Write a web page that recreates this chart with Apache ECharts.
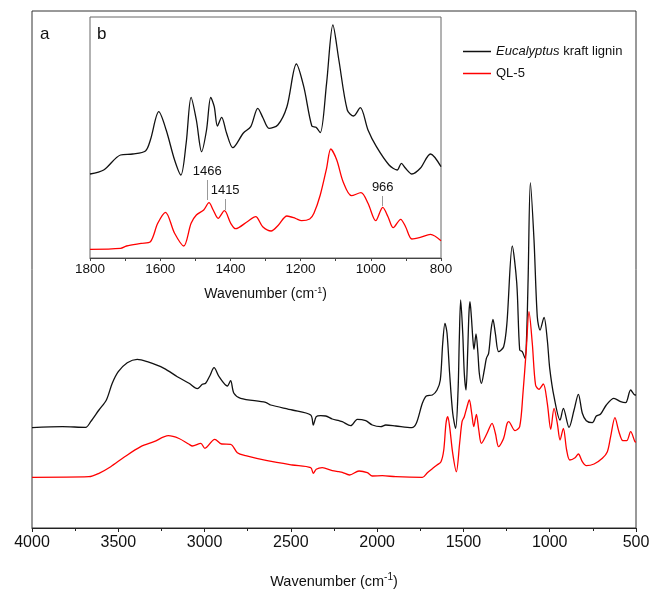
<!DOCTYPE html>
<html>
<head>
<meta charset="utf-8">
<script src="https://cdn.jsdelivr.net/npm/echarts@6/dist/echarts.min.js"></script>
<style>
  html, body { margin: 0; padding: 0; background: #fff; }
  #main { width: 651px; height: 589px; }
</style>
</head>
<body>
<div id="main"></div>
<script>
// FTIR spectra, arbitrary absorbance units
var mainWnLignin = [4000, 3824, 3689, 3660, 3612, 3569, 3535, 3500, 3448, 3390, 3332, 3235, 3158, 3090, 3042, 3013, 2994, 2970, 2945, 2916, 2868, 2849, 2830, 2791, 2646, 2617, 2492, 2385, 2370, 2353, 2327, 2298, 2260, 2221, 2202, 2153, 2115, 2066, 2028, 1979, 1950, 1892, 1800, 1773, 1738, 1715, 1680, 1653, 1634, 1620, 1607, 1595, 1580, 1562, 1545, 1531, 1524, 1516, 1504, 1495, 1485, 1475, 1468, 1462, 1454, 1445, 1439, 1427, 1416, 1408, 1396, 1379, 1367, 1354, 1340, 1329, 1315, 1296, 1267, 1248, 1217, 1191, 1174, 1159, 1143, 1134, 1125, 1112, 1091, 1072, 1056, 1033, 1014, 1000, 975, 940, 921, 888, 859, 834, 811, 788, 753, 730, 705, 672, 628, 589, 560, 531, 506, 500];
var mainAbsLignin = [100.3, 101.3, 100.7, 106.3, 118, 128, 144.7, 156.3, 165.3, 168.7, 166.3, 159.7, 151.3, 144.7, 139.3, 143.7, 144.7, 152, 160.3, 151.3, 142, 147.3, 134.7, 129.7, 125.7, 123, 118, 113, 103, 111.3, 112.3, 112, 109, 107.3, 106.3, 102.3, 108.7, 107.3, 103, 101.3, 103, 102, 100.3, 104.7, 124.7, 132, 133, 138, 148, 184.7, 204.7, 194.7, 154.7, 114.7, 99.7, 138, 188, 228, 194.7, 154.7, 138, 178, 214.7, 226.3, 211.3, 188, 178.7, 194, 174.7, 154.7, 144.7, 158, 169.7, 174.7, 198, 208.7, 194.7, 176.3, 181.3, 204.7, 282, 245, 178, 176.3, 169.7, 191.3, 250, 345.3, 288, 211.3, 198, 210.7, 188, 159.7, 131.3, 108, 119.7, 100.7, 118, 133.7, 114.7, 107.3, 105.3, 112, 114, 123, 129.7, 126.3, 125.3, 138, 133, 133];

var mainWnQL = [4000, 3670, 3612, 3544, 3467, 3370, 3293, 3210, 3148, 3090, 3071, 3022, 2998, 2941, 2901, 2849, 2810, 2762, 2637, 2492, 2385, 2370, 2353, 2318, 2260, 2221, 2202, 2160, 2105, 2057, 2028, 1970, 1892, 1738, 1709, 1670, 1653, 1630, 1614, 1601, 1591, 1580, 1562, 1541, 1522, 1508, 1495, 1479, 1466, 1452, 1440, 1425, 1411, 1396, 1363, 1334, 1315, 1296, 1267, 1248, 1238, 1201, 1174, 1155, 1136, 1120, 1101, 1082, 1062, 1037, 1014, 994, 975, 956, 940, 921, 902, 884, 853, 834, 811, 788, 743, 695, 666, 647, 622, 599, 576, 554, 531, 506, 500];
var mainAbsQL = [50.7, 51.3, 54.7, 61.3, 70.7, 81.3, 86.3, 92.3, 89.5, 83.7, 82, 84.7, 79.7, 88.7, 84, 83.7, 75.3, 72.3, 67.3, 63, 60.3, 54.7, 58.7, 60.3, 57.3, 56.3, 55.7, 53, 57, 55.3, 52, 52.3, 51.3, 50.7, 55.3, 60.7, 63, 66.3, 78, 104.7, 111.3, 101.3, 74.7, 56.3, 84.7, 106.3, 111.3, 121.3, 128, 114.7, 101.3, 113.7, 98, 84.7, 94.7, 104.7, 94.7, 81.3, 89.7, 104, 106.3, 97.3, 101.3, 134.7, 178, 216.3, 184.7, 143, 138.7, 144, 124.7, 98.7, 119.7, 104.7, 88, 99.7, 78, 68, 70.3, 74, 66.3, 62.3, 64, 69.7, 76.3, 91.3, 110.3, 96.3, 87.3, 87.3, 96.3, 86.3, 86];

// inset b, 1800-800 cm-1
var insetWnLignin = [1800, 1761, 1713, 1678, 1642, 1628, 1604, 1583, 1559, 1541, 1526, 1512, 1497, 1482, 1468, 1456, 1446, 1437, 1425, 1411, 1393, 1363, 1342, 1322, 1307, 1290, 1265, 1239, 1212, 1191, 1168, 1156, 1144, 1126, 1108, 1091, 1067, 1049, 1030, 1008, 984, 948, 925, 913, 901, 883, 859, 830, 800];
var insetAbsLignin = [84, 88, 103, 104, 107, 118, 146.3, 128, 98, 83, 115, 160.7, 138, 106.3, 128, 160.7, 151.3, 132, 140.7, 125, 110.3, 125, 131.3, 149.7, 140, 129.7, 133, 151.3, 194, 171.3, 132, 130.7, 125.3, 174.7, 233, 198, 148, 142, 150.3, 128, 111.3, 93, 88, 94.7, 89.7, 84, 89.7, 104, 91.3];

var insetWnQL = [1800, 1713, 1696, 1654, 1628, 1607, 1585, 1559, 1533, 1512, 1497, 1476, 1461, 1449, 1435, 1417, 1399, 1385, 1352, 1328, 1308, 1284, 1263, 1239, 1215, 1197, 1174, 1162, 1144, 1126, 1114, 1097, 1079, 1055, 1028, 1008, 986, 966, 951, 936, 915, 901, 883, 859, 830, 800];
var insetAbsQL = [8.7, 9.7, 12, 14.7, 16.3, 34.7, 45.7, 24.7, 12, 34.7, 43, 48, 55.3, 48, 39.7, 47.3, 34.7, 29.3, 36.3, 41.3, 31.3, 27, 33, 42, 39.7, 37.3, 39, 44.7, 63, 89.7, 109, 98, 76.3, 62.3, 65.3, 54.7, 37.3, 50.7, 41.3, 30.3, 38.7, 31.3, 19, 20.7, 23.7, 17.3];

// labelled bands on QL-5 in the inset: position, line bottom, line top
var bandWn = [1466, 1415, 966];
var bandLow = [58, 48, 52];
var bandHigh = [78, 59, 62];

var FONT = 'Liberation Sans, Arial, sans-serif';

function pairs(wn, val) {
	var out = [];
	for (var i = 0; i < wn.length; i++) {
		out.push([wn[i], val[i]]);
	}
	return out;
}

var bandLines = [];
for (var i = 0; i < bandWn.length; i++) {
	bandLines.push([
		{ coord: [bandWn[i], bandLow[i]] },
		{ coord: [bandWn[i], bandHigh[i]], label: { formatter: String(bandWn[i]) } }
	]);
}

var chart = echarts.init(document.getElementById('main'));

var option = {
	animation: false,
	backgroundColor: '#fff',
	textStyle: { fontFamily: FONT },
	grid: [{
		left: 32, right: 15, top: 11, bottom: 61,
		containLabel: false, outerBoundsMode: 'none',
		show: true, borderColor: '#333', borderWidth: 1
	}, {
		left: 90, width: 351, top: 17, height: 241,
		containLabel: false, outerBoundsMode: 'none',
		show: true, borderColor: '#666', borderWidth: 1, backgroundColor: '#fff'
	}],
	legend: {
		left: 458, top: 39,
		orient: 'vertical',
		icon: 'rect',
		itemWidth: 28, itemHeight: 1.5, itemGap: 7,
		data: ['Eucalyptus kraft lignin', 'QL-5'],
		formatter: function (name) {
			if (name == 'Eucalyptus kraft lignin') {
				return '{i|Eucalyptus} kraft lignin';
			}
			return name;
		},
		textStyle: {
			fontFamily: FONT, fontSize: 13, color: '#111', lineHeight: 15,
			rich: { i: { fontFamily: FONT, fontSize: 13, fontStyle: 'italic', color: '#111', lineHeight: 15 } }
		}
	},
	xAxis: [{
		gridIndex: 0, type: 'value', inverse: true,
		min: 500, max: 4000, interval: 500,
		axisLine: { lineStyle: { color: '#222', width: 1 } },
		axisTick: { length: 4, lineStyle: { color: '#222' } },
		minorTick: { show: true, splitNumber: 2, length: 3, lineStyle: { color: '#222' } },
		splitLine: { show: false },
		axisLabel: {
			fontSize: 16, color: '#111', margin: 7, fontFamily: FONT,
			formatter: function (v) { return String(v); }
		},
		name: 'Wavenumber (cm{sup|-1})',
		nameLocation: 'middle', nameGap: 44,
		nameTextStyle: {
			fontSize: 14.5, color: '#111', fontFamily: FONT,
			rich: { sup: { fontSize: 10, color: '#111', fontFamily: FONT, padding: [0, 0, 9, 0] } }
		}
	}, {
		gridIndex: 1, type: 'value', inverse: true,
		min: 800, max: 1800, interval: 200,
		axisLine: { lineStyle: { color: '#444', width: 1 } },
		axisTick: { length: 3, lineStyle: { color: '#444' } },
		minorTick: { show: true, splitNumber: 2, length: 3, lineStyle: { color: '#444' } },
		splitLine: { show: false },
		axisLabel: {
			fontSize: 13.5, color: '#111', margin: 4, fontFamily: FONT,
			formatter: function (v) { return String(v); }
		},
		name: 'Wavenumber (cm{sup|-1})',
		nameLocation: 'middle', nameGap: 28,
		nameTextStyle: {
			fontSize: 14, color: '#111', fontFamily: FONT,
			rich: { sup: { fontSize: 9, color: '#111', fontFamily: FONT, padding: [0, 0, 8, 0] } }
		}
	}],
	yAxis: [{
		gridIndex: 0, type: 'value', min: 0, max: 517, show: false
	}, {
		gridIndex: 1, type: 'value', min: 0, max: 241, show: false
	}],
	graphic: [{
		type: 'text', left: 40, top: 26,
		style: { text: 'a', fontSize: 17, fontFamily: FONT, fill: '#111' }
	}, {
		type: 'text', left: 97, top: 26,
		style: { text: 'b', fontSize: 17, fontFamily: FONT, fill: '#111' }
	}],
	series: [{
		name: 'Eucalyptus kraft lignin', type: 'line',
		xAxisIndex: 0, yAxisIndex: 0,
		data: pairs(mainWnLignin, mainAbsLignin),
		symbol: 'none', smooth: 0.3,
		lineStyle: { color: '#111', width: 1.3 },
		itemStyle: { color: '#111' }
	}, {
		name: 'QL-5', type: 'line',
		xAxisIndex: 0, yAxisIndex: 0,
		data: pairs(mainWnQL, mainAbsQL),
		symbol: 'none', smooth: 0.3,
		lineStyle: { color: '#ff0000', width: 1.3 },
		itemStyle: { color: '#ff0000' }
	}, {
		name: 'Eucalyptus kraft lignin', type: 'line',
		xAxisIndex: 1, yAxisIndex: 1,
		data: pairs(insetWnLignin, insetAbsLignin),
		symbol: 'none', smooth: 0.3,
		lineStyle: { color: '#111', width: 1.3 },
		itemStyle: { color: '#111' }
	}, {
		name: 'QL-5', type: 'line',
		xAxisIndex: 1, yAxisIndex: 1,
		data: pairs(insetWnQL, insetAbsQL),
		symbol: 'none', smooth: 0.3,
		lineStyle: { color: '#ff0000', width: 1.3 },
		itemStyle: { color: '#ff0000' },
		markLine: {
			silent: true,
			symbol: ['none', 'none'],
			lineStyle: { color: '#999', width: 1, type: 'solid' },
			label: { show: true, position: 'end', distance: 2, fontSize: 13, color: '#111', fontFamily: FONT },
			data: bandLines
		}
	}]
};

chart.setOption(option);
window.addEventListener('resize', function () {
	chart.resize();
});
</script>
</body>
</html>
